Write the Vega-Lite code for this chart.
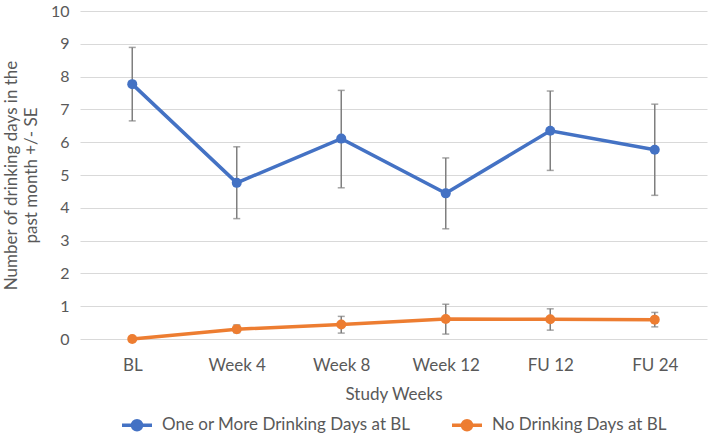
{
  "$schema": "https://vega.github.io/schema/vega-lite/v6.json",
  "autosize": {"type": "none"},
  "padding": {"left": 80, "top": 11, "right": 2, "bottom": 101},
  "width": 627,
  "height": 328,
  "background": "white",
  "config": {
    "font": "Lato",
    "view": {"stroke": null},
    "axisY": {
      "tickCount": 10,
      "labelOverlap": false,
      "labelFont": "Lato",
      "labelFontSize": 16,
      "labelColor": "#595959",
      "labelPadding": 11,
      "ticks": false,
      "domain": false,
      "grid": true,
      "gridColor": "#d9d9d9",
      "gridWidth": 1.2
    }
  },
  "data": {
    "values": [
      {"week": "BL", "group": "One or More Drinking Days at BL", "mean": 7.77, "lo": 6.65, "hi": 8.89},
      {"week": "Week 4", "group": "One or More Drinking Days at BL", "mean": 4.76, "lo": 3.67, "hi": 5.86},
      {"week": "Week 8", "group": "One or More Drinking Days at BL", "mean": 6.11, "lo": 4.61, "hi": 7.58},
      {"week": "Week 12", "group": "One or More Drinking Days at BL", "mean": 4.44, "lo": 3.36, "hi": 5.52},
      {"week": "FU 12", "group": "One or More Drinking Days at BL", "mean": 6.35, "lo": 5.14, "hi": 7.56},
      {"week": "FU 24", "group": "One or More Drinking Days at BL", "mean": 5.77, "lo": 4.38, "hi": 7.16},
      {"week": "BL", "group": "No Drinking Days at BL", "mean": 0, "lo": 0, "hi": 0},
      {"week": "Week 4", "group": "No Drinking Days at BL", "mean": 0.3, "lo": 0.19, "hi": 0.43},
      {"week": "Week 8", "group": "No Drinking Days at BL", "mean": 0.44, "lo": 0.18, "hi": 0.69},
      {"week": "Week 12", "group": "No Drinking Days at BL", "mean": 0.61, "lo": 0.15, "hi": 1.06},
      {"week": "FU 12", "group": "No Drinking Days at BL", "mean": 0.6, "lo": 0.27, "hi": 0.92},
      {"week": "FU 24", "group": "No Drinking Days at BL", "mean": 0.59, "lo": 0.37, "hi": 0.81}
    ]
  },
  "encoding": {
    "x": {
      "field": "week",
      "type": "nominal",
      "sort": ["BL", "Week 4", "Week 8", "Week 12", "FU 12", "FU 24"],
      "scale": {"type": "point", "padding": 0.5},
      "axis": {
        "title": "Study Weeks",
        "titleFont": "Lato",
        "titleFontSize": 17,
        "titleFontWeight": "normal",
        "titleColor": "#595959",
        "titlePadding": 13,
        "labelFont": "Lato",
        "labelFontSize": 17,
        "labelColor": "#595959",
        "labelPadding": 18,
        "labelAngle": 0,
        "ticks": false,
        "domain": false,
        "grid": false
      }
    }
  },
  "layer": [
    {
      "mark": {"type": "rule", "color": "#7f7f7f", "strokeWidth": 1.5},
      "encoding": {
        "y": {
          "field": "lo",
          "type": "quantitative",
          "scale": {"domain": [0, 10], "nice": false},
          "axis": {
            "title": ["Number of drinking days in the", "past month +/- SE"],
            "titleFont": "Lato",
            "titleFontSize": 17,
            "titleFontWeight": "normal",
            "titleColor": "#595959",
            "titleLineHeight": 20,
            "titleAngle": -90,
            "titleBaseline": "top",
            "titleAnchor": "middle",
            "titleX": -77,
            "titleY": 164
          }
        },
        "y2": {"field": "hi"}
      }
    },
    {
      "mark": {"type": "tick", "color": "#7f7f7f", "size": 7, "thickness": 1.5},
      "encoding": {"y": {"field": "lo", "type": "quantitative"}}
    },
    {
      "mark": {"type": "tick", "color": "#7f7f7f", "size": 7, "thickness": 1.5},
      "encoding": {"y": {"field": "hi", "type": "quantitative"}}
    },
    {
      "mark": {"type": "line", "strokeWidth": 3.5},
      "encoding": {
        "y": {"field": "mean", "type": "quantitative"},
        "color": {"field": "group", "type": "nominal"}
      }
    },
    {
      "mark": {"type": "point", "filled": true, "opacity": 1, "size": 100},
      "encoding": {
        "y": {"field": "mean", "type": "quantitative"},
        "color": {
          "field": "group",
          "type": "nominal",
          "sort": ["One or More Drinking Days at BL", "No Drinking Days at BL"],
          "scale": {
            "domain": ["One or More Drinking Days at BL", "No Drinking Days at BL"],
            "range": ["#4472C4", "#ED7D31"]
          },
          "legend": {
            "title": null,
            "orient": "none",
            "direction": "horizontal",
            "legendX": 40,
            "legendY": 397,
            "labelFont": "Lato",
            "labelFontSize": 17,
            "labelColor": "#595959",
            "labelLimit": 400,
            "symbolType": "M-1,0L1,0M0.3,0A0.3,0.3,0,1,1,-0.3,0A0.3,0.3,0,1,1,0.3,0Z",
            "symbolSize": 900,
            "symbolStrokeWidth": 3.5,
            "columnPadding": 34,
            "labelOffset": 8
          }
        }
      }
    }
  ]
}
